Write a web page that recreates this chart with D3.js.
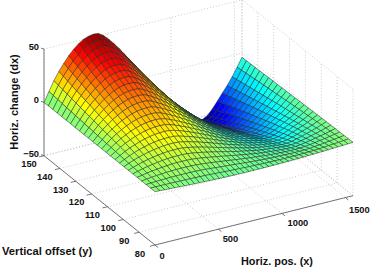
<!DOCTYPE html>
<html><head><meta charset="utf-8"><style>html,body{margin:0;padding:0;background:#fff}svg{display:block}text{font-family:"Liberation Sans",Arial,sans-serif;font-weight:bold;fill:#111}</style></head><body>
<script src="https://cdn.jsdelivr.net/npm/d3@7"></script>
<script>
const xs=[0,39,78,117,156,195,234,273,312,351,390,429,468,507,546,585,624,663,702,741,780,819,858,897,936,975,1014,1053,1092,1131,1170,1209,1248,1287,1326,1365,1404,1443,1482,1521,1560];
const ys=[80,82.8,85.6,88.4,91.2,94,96.8,99.6,102.4,105.2,108,110.8,113.6,116.4,119.2,122,124.8,127.6,130.4,133.2,136,138.8,141.6,144.4,147.2,150];
const dx=[
[0,0,0,0,0,0,0,0,0,0,0,0,0,0,0,0,0,0,0,0,0,0,0,0,0,0],
[-.2,0,.3,.6,.9,1.2,1.6,1.9,2.3,2.6,3,3.4,3.7,4.1,4.5,4.9,5.3,5.7,6.1,6.5,6.9,7.3,7.7,8.2,8.6,9],
[-.5,0,.6,1.1,1.8,2.4,3.1,3.8,4.5,5.2,6,6.7,7.5,8.2,9,9.8,10.6,11.4,12.2,13,13.8,14.6,15.5,16.3,17.1,18],
[-.7,-.1,.7,1.6,2.5,3.4,4.4,5.4,6.4,7.4,8.4,9.5,10.6,11.6,12.7,13.9,15,16.1,17.3,18.4,19.6,20.7,21.9,23.1,24.3,25.5],
[-.9,-.1,.9,1.9,3.1,4.2,5.5,6.7,8,9.2,10.6,11.9,13.2,14.6,16,17.4,18.8,20.2,21.6,23.1,24.6,26,27.5,29,30.5,32],
[-1.2,-.2,1,2.3,3.6,5,6.4,7.9,9.4,10.9,12.5,14.1,15.7,17.3,18.9,20.6,22.3,24,25.7,27.4,29.2,30.9,32.6,34.4,36.2,38],
[-1.4,-.3,1.1,2.5,4.1,5.6,7.2,8.9,10.6,12.3,14.1,15.9,17.7,19.5,21.4,23.3,25.2,27.1,29,31,33,34.9,36.9,39,41,43],
[-1.6,-.4,1.1,2.7,4.4,6.1,7.9,9.7,11.5,13.4,15.4,17.3,19.3,21.3,23.3,25.4,27.5,29.6,31.7,33.8,36,38.2,40.3,42.6,44.8,47],
[-1.8,-.5,1.1,2.7,4.6,6.4,8.3,10.3,12.2,14.2,16.3,18.4,20.5,22.6,24.8,27,29.2,31.5,33.7,36,38.3,40.6,42.9,45.3,47.6,50],
[-1.9,-.6,1,2.7,4.6,6.5,8.5,10.5,12.5,14.6,16.8,18.9,21.1,23.3,25.6,27.9,30.1,32.5,34.8,37.2,39.6,41.9,44.4,46.8,49.2,51.7],
[-2.1,-.8,.9,2.6,4.5,6.5,8.5,10.6,12.6,14.8,16.9,19.1,21.4,23.6,25.9,28.2,30.5,32.9,35.3,37.7,40.2,42.6,45,47.5,50,52.5],
[-2.3,-.9,.7,2.4,4.3,6.2,8.3,10.3,12.4,14.5,16.7,18.8,21.1,23.3,25.6,27.9,30.2,32.6,34.9,37.3,39.7,42.1,44.6,47.1,49.5,52],
[-2.4,-1.1,.4,2,3.8,5.6,7.5,9.5,11.5,13.5,15.5,17.6,19.7,21.8,24,26.2,28.3,30.6,32.8,35.1,37.4,39.6,42,44.3,46.6,49],
[-2.6,-1.4,0,1.5,3.2,4.8,6.6,8.4,10.1,12,13.9,15.7,17.7,19.6,21.6,23.6,25.6,27.7,29.7,31.7,33.9,35.9,38,40.2,42.3,44.5],
[-2.7,-1.6,-.4,1,2.5,4,5.5,7.1,8.7,10.4,12,13.7,15.5,17.2,19,20.8,22.6,24.4,26.2,28.1,30,31.8,33.7,35.7,37.6,39.5],
[-2.8,-1.9,-.8,.4,1.7,3,4.4,5.8,7.2,8.6,10.1,11.5,13,14.6,16.1,17.7,19.2,20.8,22.4,24,25.7,27.3,29,30.7,32.3,34],
[-2.9,-2.1,-1.2,-.2,.9,2,3.1,4.3,5.5,6.7,7.9,9.2,10.4,11.7,13,14.3,15.6,17,18.3,19.6,21,22.4,23.8,25.2,26.6,28],
[-2.9,-2.3,-1.5,-.8,.1,1,1.9,2.9,3.8,4.8,5.8,6.8,7.8,8.8,9.9,10.9,12,13.1,14.2,15.3,16.4,17.5,18.6,19.7,20.9,22],
[-3,-2.5,-1.9,-1.4,-.7,-.1,.6,1.3,2,2.7,3.5,4.2,5,5.7,6.5,7.3,8.1,8.9,9.7,10.5,11.3,12.1,13,13.8,14.7,15.5],
[-3,-2.7,-2.3,-2,-1.5,-1.1,-.7,-.2,.2,.7,1.2,1.7,2.2,2.7,3.2,3.7,4.2,4.7,5.2,5.8,6.3,6.8,7.4,7.9,8.5,9],
[-3,-2.9,-2.7,-2.6,-2.4,-2.2,-2,-1.8,-1.7,-1.5,-1.3,-1.1,-.9,-.6,-.4,-.2,0,.2,.4,.6,.9,1.1,1.3,1.5,1.8,2],
[-3,-3,-3.1,-3.1,-3.2,-3.3,-3.3,-3.4,-3.5,-3.5,-3.6,-3.7,-3.7,-3.8,-3.9,-3.9,-4,-4.1,-4.2,-4.2,-4.3,-4.4,-4.5,-4.5,-4.6,-4.7],
[-3,-3.2,-3.4,-3.7,-3.9,-4.2,-4.5,-4.8,-5.1,-5.4,-5.8,-6.1,-6.4,-6.7,-7.1,-7.4,-7.8,-8.1,-8.5,-8.8,-9.2,-9.5,-9.9,-10.3,-10.6,-11],
[-2.9,-3.3,-3.7,-4.1,-4.6,-5.1,-5.7,-6.2,-6.7,-7.3,-7.8,-8.4,-9,-9.6,-10.1,-10.8,-11.3,-12,-12.6,-13.2,-13.8,-14.4,-15.1,-15.7,-16.4,-17],
[-2.9,-3.4,-4,-4.6,-5.3,-6,-6.8,-7.5,-8.3,-9.1,-9.9,-10.7,-11.5,-12.3,-13.2,-14.1,-14.9,-15.8,-16.7,-17.5,-18.4,-19.3,-20.2,-21.2,-22.1,-23],
[-2.8,-3.4,-4.2,-5.1,-6,-6.9,-7.9,-8.9,-9.9,-10.9,-11.9,-13,-14.1,-15.1,-16.2,-17.4,-18.5,-19.6,-20.7,-21.9,-23.1,-24.2,-25.4,-26.6,-27.8,-29],
[-2.7,-3.5,-4.4,-5.4,-6.5,-7.6,-8.7,-9.9,-11.1,-12.4,-13.6,-14.9,-16.1,-17.4,-18.7,-20.1,-21.4,-22.8,-24.1,-25.5,-26.9,-28.3,-29.7,-31.1,-32.6,-34],
[-2.6,-3.5,-4.5,-5.7,-6.9,-8.2,-9.5,-10.9,-12.3,-13.7,-15.1,-16.5,-18,-19.5,-21,-22.5,-24,-25.6,-27.2,-28.8,-30.4,-32,-33.6,-35.2,-36.9,-38.5],
[-2.4,-3.4,-4.6,-5.9,-7.3,-8.6,-10.1,-11.6,-13.1,-14.7,-16.2,-17.8,-19.4,-21.1,-22.7,-24.4,-26.1,-27.8,-29.5,-31.3,-33.1,-34.8,-36.6,-38.4,-40.2,-42],
[-2.3,-3.4,-4.7,-6.1,-7.6,-9.1,-10.8,-12.4,-14.1,-15.8,-17.5,-19.3,-21.1,-22.9,-24.7,-26.6,-28.4,-30.4,-32.2,-34.2,-36.1,-38,-40,-42,-44,-46],
[-2.1,-3.3,-4.7,-6.2,-7.9,-9.6,-11.3,-13.1,-14.9,-16.8,-18.7,-20.6,-22.5,-24.4,-26.4,-28.5,-30.5,-32.5,-34.6,-36.7,-38.8,-40.9,-43,-45.2,-47.3,-49.5],
[-1.9,-3.2,-4.7,-6.3,-8.1,-9.9,-11.8,-13.7,-15.6,-17.6,-19.6,-21.6,-23.7,-25.8,-27.9,-30.1,-32.2,-34.4,-36.6,-38.8,-41.1,-43.3,-45.6,-47.9,-50.2,-52.5],
[-1.8,-3,-4.6,-6.2,-8,-9.8,-11.7,-13.7,-15.6,-17.6,-19.6,-21.7,-23.8,-25.9,-28,-30.3,-32.4,-34.7,-36.9,-39.1,-41.4,-43.7,-46,-48.3,-50.6,-53],
[-1.6,-2.8,-4.3,-5.8,-7.5,-9.3,-11.1,-12.9,-14.8,-16.7,-18.6,-20.6,-22.6,-24.6,-26.7,-28.8,-30.8,-33,-35.1,-37.2,-39.4,-41.6,-43.8,-46,-48.3,-50.5],
[-1.4,-2.5,-3.8,-5.2,-6.7,-8.3,-9.9,-11.6,-13.3,-15,-16.8,-18.5,-20.3,-22.2,-24,-25.9,-27.8,-29.7,-31.6,-33.5,-35.5,-37.5,-39.5,-41.5,-43.5,-45.5],
[-1.2,-2.1,-3.3,-4.5,-5.8,-7.2,-8.6,-10.1,-11.5,-13,-14.5,-16.1,-17.6,-19.2,-20.8,-22.5,-24.1,-25.8,-27.4,-29.1,-30.8,-32.5,-34.2,-36,-37.7,-39.5],
[-.9,-1.7,-2.7,-3.7,-4.8,-6,-7.2,-8.4,-9.6,-10.8,-12.1,-13.4,-14.7,-16,-17.4,-18.8,-20.1,-21.5,-22.9,-24.3,-25.8,-27.2,-28.6,-30.1,-31.5,-33],
[-.7,-1.4,-2.1,-3,-3.9,-4.8,-5.8,-6.8,-7.8,-8.8,-9.9,-10.9,-12,-13.1,-14.2,-15.3,-16.4,-17.6,-18.7,-19.9,-21.1,-22.2,-23.4,-24.6,-25.8,-27],
[-.5,-1,-1.5,-2.2,-2.9,-3.5,-4.3,-5,-5.7,-6.5,-7.3,-8.1,-8.9,-9.7,-10.5,-11.3,-12.2,-13,-13.9,-14.7,-15.6,-16.4,-17.3,-18.2,-19.1,-20],
[-.2,-.5,-.9,-1.3,-1.7,-2.1,-2.5,-3,-3.4,-3.9,-4.3,-4.8,-5.3,-5.8,-6.3,-6.8,-7.3,-7.8,-8.3,-8.8,-9.3,-9.9,-10.4,-10.9,-11.5,-12],
[0,-.1,-.2,-.4,-.5,-.6,-.8,-.9,-1.1,-1.2,-1.4,-1.6,-1.7,-1.9,-2.1,-2.2,-2.4,-2.6,-2.7,-2.9,-3.1,-3.3,-3.5,-3.6,-3.8,-4]
];
const xTicks=[0,500,1000,1500], yTicks=[80,90,100,110,120,130,140,150], zTicks=[-50,0,50];
const W=374,H=269;
const svg=d3.select("body").append("svg").attr("width",W).attr("height",H);
const sxX=d3.scaleLinear().domain([0,1560]).range([0,198]);
const sxY=d3.scaleLinear().domain([0,1560]).range([0,-49.3]);
const syX=d3.scaleLinear().domain([80,150]).range([0,-111]);
const syY=d3.scaleLinear().domain([80,150]).range([0,-89.3]);
const sz=d3.scaleLinear().domain([-50,50]).range([0,-106.6]);
const P=(x,y,z)=>[155+sxX(x)+syX(y),245+sxY(x)+syY(y)+sz(z)];
const jet=d3.scaleLinear().domain([0,.125,.375,.625,.875,1]).range(["#000080","#0000ff","#00ffff","#ffff00","#ff0000","#800000"]).clamp(true);
const cn=d3.scaleLinear().domain([-55,52.5]).range([0,1]);
const line=d3.line();
const grid=svg.append("g").attr("fill","none").attr("stroke","#aaa").attr("stroke-width",.6).attr("stroke-dasharray","1 2");
const L=(a,b)=>grid.append("path").attr("d",line([a,b]));
xTicks.forEach(x=>{L(P(x,80,-50),P(x,150,-50));L(P(x,150,-50),P(x,150,50));});
yTicks.forEach(y=>{L(P(0,y,-50),P(1560,y,-50));L(P(1560,y,-50),P(1560,y,50));});
zTicks.forEach(z=>{L(P(0,150,z),P(1560,150,z));L(P(1560,150,z),P(1560,80,z));});
L(P(1560,80,-50),P(1560,150,-50));L(P(1560,150,-50),P(1560,150,50));
const surf=svg.append("g").attr("stroke","#222").attr("stroke-width",.5);
for(let i=xs.length-2;i>=0;i--)for(let j=ys.length-2;j>=0;j--){
 surf.append("path").attr("d",line([P(xs[i],ys[j],dx[i][j]),P(xs[i+1],ys[j],dx[i+1][j]),P(xs[i+1],ys[j+1],dx[i+1][j+1]),P(xs[i],ys[j+1],dx[i][j+1])])+"Z").attr("fill",jet(cn(dx[i][j])));
}
const ax=svg.append("g").attr("fill","none").attr("stroke","#555").attr("stroke-width",.8);
const A=(a,b)=>ax.append("path").attr("d",line([a,b]));
A(P(0,150,-50),P(0,150,50));A(P(0,150,-50),P(0,80,-50));A(P(0,80,-50),P(1560,80,-50));
zTicks.forEach(z=>A(P(0,150,z),[P(0,150,z)[0]-3,P(0,150,z)[1]-1]));
yTicks.forEach(y=>{const p=P(0,y,-50);A(p,[p[0]-5,p[1]+1.2]);});
xTicks.forEach(x=>{const p=P(x,80,-50);A(p,[p[0]+3,p[1]+2.5]);});
const T=(s,x,y,a,r)=>{const t=svg.append("text").attr("x",x).attr("y",y).attr("text-anchor",a||"middle").attr("font-size",9.3).attr("dominant-baseline","central").text(s);if(r)t.attr("transform",`rotate(${r} ${x} ${y})`);return t;};
zTicks.forEach(z=>{const p=P(0,150,z);T(z<0?"\u2212"+(-z):z,p[0]-5,p[1]-2,"end");});
yTicks.forEach(y=>{const p=P(0,y,-50);T(y,p[0]-15,p[1]+8.5);});
xTicks.forEach((x,k)=>{const p=P(x,80,-50);T(x,p[0]+[7,12,16,14][k],p[1]+[11,10,10,12][k]);});
T("Horiz. pos. (x)",277,261).attr("font-size",10.9);
T("Vertical offset (y)",2,251,"start").attr("font-size",11.2);
T("Horiz. change (dx)",14,102,"middle",-90).attr("font-size",11);
</script></body></html>
